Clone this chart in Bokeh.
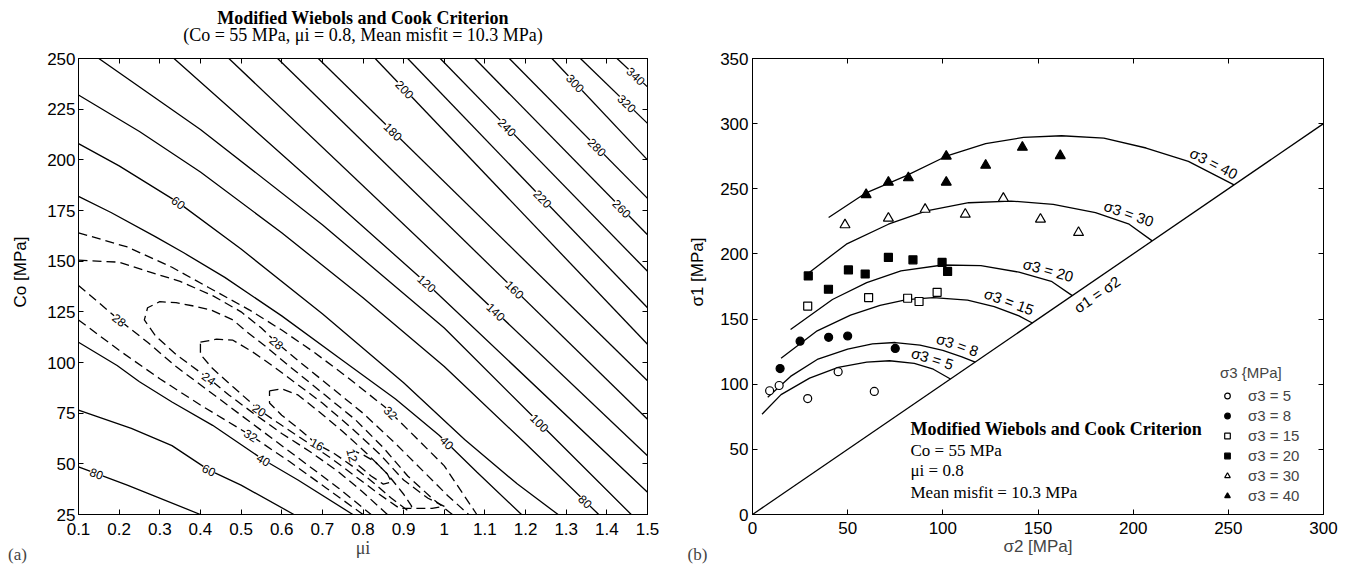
import math
from bokeh.plotting import figure
from bokeh.layouts import row
from bokeh.models import (Range1d, FixedTicker, LinearAxis, CustomJSTickFormatter, Title,
                          Label, Legend, LegendItem, ColumnDataSource)
from bokeh.core.properties import value
from bokeh.embed import file_html
from bokeh.resources import INLINE

SANS = "Liberation Sans"
SERIF = "Liberation Serif"

# ======================= Panel (a) data =======================
mu_ticks = [0.1, 0.2, 0.3, 0.4, 0.5, 0.6, 0.7, 0.8, 0.9, 1.0, 1.1, 1.2, 1.3, 1.4, 1.5]
co_ticks = [25, 50, 75, 100, 125, 150, 175, 200, 225, 250]

# contour pieces: level, mu points, Co points
contour_level = [80, 60, 40, 40, 60, 80, 100, 120, 140, 160, 180, 200, 220, 240, 260, 280,
                 300, 320, 340,
                 32, 28, 28, 32, 24, 20, 16, 12]
contour_mu = [
    [0.10, 0.22, 0.40],
    [0.10, 0.23, 0.33, 0.42, 0.50, 0.63],
    [0.10, 0.195, 0.25, 0.33, 0.43, 0.555, 0.64, 0.775],
    [0.10, 0.18, 0.29, 0.36, 0.46, 0.60, 0.75, 0.88, 0.988, 1.08, 1.19],
    [0.10, 0.20, 0.345, 0.50, 0.70, 0.90, 1.05, 1.18, 1.28],
    [0.10, 0.25, 0.40, 0.60, 0.80, 1.00, 1.20, 1.38],
    [0.15, 0.40, 0.70, 1.00, 1.225, 1.46],
    [0.335, 0.957, 1.5],
    [0.47, 1.5],
    [0.59, 1.5],
    [0.69, 1.5],
    [0.83, 1.5],
    [0.91, 1.5],
    [0.99, 1.5],
    [1.075, 1.5],
    [1.16, 1.5],
    [1.265, 1.5],
    [1.335, 1.5],
    [1.425, 1.5],
    # dashed
    [0.10, 0.22, 0.33, 0.42, 0.52, 0.60, 0.68, 0.76, 0.854, 0.93, 1.00, 1.08],
    [0.10, 0.20, 0.27, 0.35, 0.43, 0.50, 0.55, 0.586, 0.64, 0.72, 0.80, 0.88, 0.95, 1.01, 1.06],
    [0.10, 0.20, 0.27, 0.34, 0.42, 0.50, 0.58, 0.66, 0.74, 0.82],
    [0.10, 0.20, 0.30, 0.40, 0.524, 0.62, 0.71, 0.80],
    [1.02, 0.97, 0.91, 0.85, 0.78, 0.70, 0.62, 0.56, 0.515, 0.48, 0.425, 0.38, 0.34, 0.30,
     0.27, 0.262, 0.29, 0.34, 0.38, 0.421, 0.47, 0.53, 0.60, 0.67, 0.74, 0.80, 0.86],
    [0.40, 0.44, 0.48, 0.53, 0.58, 0.64, 0.70, 0.77, 0.84, 0.90, 0.96, 1.00, 0.97, 0.92,
     0.89, 0.84, 0.78, 0.72, 0.66, 0.60, 0.545, 0.48, 0.43, 0.40, 0.40],
    [0.57, 0.60, 0.64, 0.69, 0.75, 0.81, 0.86, 0.90, 0.92, 0.91, 0.87, 0.83, 0.78, 0.73,
     0.684, 0.65, 0.60, 0.57, 0.57],
    [0.77, 0.80, 0.83, 0.86, 0.87, 0.85, 0.82, 0.79, 0.775, 0.77],
]
contour_co = [
    [48.5, 39.5, 25],
    [76.5, 67.5, 59, 47, 39.5, 25],
    [110, 98.5, 90.5, 80.5, 69, 52, 42, 25],
    [182, 174, 162, 154, 142, 123, 101, 82, 64, 46, 25],
    [208, 197, 179, 156, 124, 90, 62, 40, 25],
    [232, 214, 194, 164, 132, 98, 60, 25],
    [250, 215, 168, 117, 72, 25],
    [250, 139, 36],
    [250, 54],
    [250, 72],
    [250, 91],
    [250, 109],
    [250, 127],
    [250, 145],
    [250, 163],
    [250, 181],
    [250, 200],
    [250, 218],
    [250, 236],
    # dashed
    [164, 157, 147, 137, 126, 116, 105, 93, 78, 63, 49, 25],
    [150.5, 149.5, 145, 140, 133, 125, 117, 110, 101, 88, 75, 60, 46, 34, 25],
    [138, 121, 110, 98, 86, 74, 62, 50, 38, 25],
    [121, 106, 92, 79, 64, 51, 38, 25],
    [25, 33, 44, 58, 72, 85, 98, 108, 115, 121, 126, 128, 129.5, 130, 127, 121, 113, 104, 98,
     92, 84, 75, 65, 56, 46, 36, 25],
    [110, 111.5, 111, 105, 98, 89, 80, 68, 55, 42, 33, 29, 28, 28, 28, 35, 44, 53, 61, 69,
     76.5, 88, 97, 104, 110],
    [86, 87, 84, 76, 66, 55, 45, 35, 29, 27, 33, 40, 48, 55, 60, 66, 74, 80, 86],
    [57, 54.5, 51, 45, 41, 40, 44, 49, 53, 57],
]

# inline contour labels (level, approximate position)
label_level = [80, 60, 40, 40, 60, 100, 80, 120, 140, 160, 180, 200, 220, 240, 260, 280, 300,
               320, 340, 28, 28, 24, 20, 32, 32, 16, 12]
label_mu = [0.143, 0.421, 0.555, 0.988, 0.345, 1.225, 1.338, 0.957, 1.127, 1.168, 0.883, 0.903,
            1.24, 1.162, 1.426, 1.379, 1.333, 1.451, 1.472, 0.2, 0.586, 0.421, 0.545, 0.524,
            0.854, 0.684, 0.777]
label_co = [44.4, 46.9, 51.8, 56.7, 178.7, 68.3, 29.6, 139.0, 125.0, 134.9, 215.8, 234.8, 180.4,
            217.5, 173.8, 206.8, 239.8, 228.2, 241.4, 120.9, 109.4, 92.1, 76.5, 64.1, 72.4,
            58.4, 54.3]

# ======================= Panel (b) data =======================
s2_ticks = [0, 50, 100, 150, 200, 250, 300]
s1_ticks = [0, 50, 100, 150, 200, 250, 300, 350]
sigma3_levels = [5, 8, 15, 20, 30, 40]

obs_s2_5 = [9, 14, 29, 45, 64]
obs_s1_5 = [95, 99, 89, 109.6, 94.5]
obs_s2_8 = [14.5, 25, 40, 50, 75]
obs_s1_8 = [112, 133, 136, 137, 127.5]
obs_s2_15 = [29, 61, 81.5, 87.5, 97]
obs_s1_15 = [160, 166.5, 166, 163.5, 170.5]
obs_s2_20 = [29.3, 39.9, 50.4, 59.2, 71.4, 84.3, 99.6, 102.5]
obs_s1_20 = [183.1, 172.9, 187.7, 184.6, 197.3, 195.5, 193.5, 186.6]
obs_s2_30 = [48.6, 71.4, 90.7, 111.8, 131.8, 151.3, 171.3]
obs_s1_30 = [222.3, 227.4, 234.2, 230.4, 242.6, 226.6, 216.4]
obs_s2_40 = [59.7, 71.4, 81.9, 101.8, 101.8, 122.5, 141.8, 161.7]
obs_s1_40 = [245.5, 255, 258.4, 275, 255, 268, 281.8, 275.4]

curve_s2_5 = [5, 15, 30, 45, 60, 72, 85, 95, 104]
curve_s1_5 = [77, 92, 104.7, 113, 117, 118, 116, 111.5, 104]
curve_s2_8 = [8, 20, 34, 50, 63, 75, 88, 100, 110, 117]
curve_s1_8 = [90, 106, 119, 127, 131, 132, 130, 126, 121, 117]
curve_s2_15 = [15, 34, 51.5, 67, 81, 95, 113, 127, 140, 147]
curve_s1_15 = [120, 141, 153, 160.5, 165, 166.5, 164.5, 159.5, 152.5, 147]
curve_s2_20 = [20, 42, 60, 78, 100, 120, 140, 157, 168]
curve_s1_20 = [142, 165, 178, 187, 191.5, 191, 186, 179, 168]
curve_s2_30 = [30, 49.3, 71.4, 91.4, 113.6, 135.8, 158, 180.2, 197.9, 210]
curve_s1_30 = [186, 207.5, 222.8, 233, 239.3, 240.6, 238, 231.7, 222.8, 210]
curve_s2_40 = [40, 59.7, 80.3, 101.8, 122.5, 142.4, 162.4, 184.6, 206.8, 229, 253]
curve_s1_40 = [228, 246.9, 259.7, 275, 284.6, 289.4, 290.7, 288.9, 281.3, 271, 253]

diag_s2 = [0, 300]
diag_s1 = [0, 300]

# ======================= helpers =======================
H = 566
FW1, FH1 = 569, 457
FW2, FH2 = 571, 457
KX1, KY1 = FW1 / 1.4, FH1 / 225.0
KX2, KY2 = FW2 / 300.0, FH2 / 350.0
FMT = "return String(Number(tick.toFixed(2)))"


def style_axes(p, xticks, yticks, xstand, ystand):
    p.xaxis.ticker = FixedTicker(ticks=xticks)
    p.yaxis.ticker = FixedTicker(ticks=yticks)
    p.xaxis.formatter = CustomJSTickFormatter(code=FMT)
    p.yaxis.formatter = CustomJSTickFormatter(code=FMT)
    p.xaxis.major_label_standoff = xstand
    p.yaxis.major_label_standoff = ystand
    top = LinearAxis(ticker=FixedTicker(ticks=xticks),
                     formatter=CustomJSTickFormatter(code="return ''"))
    right = LinearAxis(ticker=FixedTicker(ticks=yticks),
                       formatter=CustomJSTickFormatter(code="return ''"))
    p.add_layout(top, "above")
    p.add_layout(right, "right")
    for ax in list(p.xaxis) + list(p.yaxis):
        ax.major_tick_in = 5
        ax.major_tick_out = 0
        ax.minor_tick_line_color = None
        ax.axis_line_color = "black"
        ax.axis_line_width = 1
        ax.major_tick_line_color = "black"
        ax.major_label_text_font = SANS
        ax.major_label_text_font_size = "17px"
        ax.major_label_text_color = "black"
    p.grid.visible = False
    p.outline_line_color = "black"
    p.background_fill_color = "white"
    p.border_fill_color = "white"


def strip(width, ylabel, yl_x, yl_y, panel_tag):
    # narrow figure holding the rotated y-axis title (inside its frame) and the panel tag
    # (as the axis label of an invisible bottom axis, aligned with the neighbour's axis label)
    s = figure(width=width, height=H, x_range=Range1d(0, 1), y_range=Range1d(0, 1),
               y_axis_type=None, output_backend="svg", toolbar_location=None, min_border=0)
    s.outline_line_color = None
    s.grid.visible = False
    s.background_fill_color = "white"
    s.border_fill_color = "white"
    ax = s.below[0]
    ax.ticker = FixedTicker(ticks=[0.5])
    ax.formatter = CustomJSTickFormatter(code="return '\\u00a0'")
    ax.major_label_text_font = SANS
    ax.major_label_text_font_size = "17px"
    ax.major_label_standoff = 8
    ax.major_tick_in = 0
    ax.major_tick_out = 0
    ax.minor_tick_in = 0
    ax.minor_tick_out = 0
    ax.axis_line_color = None
    ax.major_tick_line_color = None
    ax.minor_tick_line_color = None
    ax.axis_label = panel_tag
    ax.axis_label_text_font = SERIF
    ax.axis_label_text_font_size = "17px"
    ax.axis_label_text_font_style = "normal"
    ax.axis_label_standoff = 0
    s.text(x=[yl_x], y=[yl_y], text=[ylabel], angle=[math.pi / 2], text_font=value(SANS),
           text_font_size="17px", text_align="center", text_baseline="middle",
           text_color="black")
    return s


# ======================= Panel (a) =======================
strip_a = strip(34, "Co [MPa]", 20 / 34, (515 - 272) / 457, "(a)")

p1 = figure(width=646, height=H, x_range=Range1d(0.1, 1.5), y_range=Range1d(25, 250),
            output_backend="svg", toolbar_location=None,
            min_border_left=44, min_border_right=33, min_border_top=58, min_border_bottom=51)
style_axes(p1, mu_ticks, co_ticks, 8, 3)
ax1 = p1.below[0]
ax1.axis_label = "\u03bci"
ax1.axis_label_text_font = SERIF
ax1.axis_label_text_font_size = "18px"
ax1.axis_label_text_font_style = "normal"
ax1.axis_label_standoff = 0
# spacer, then the two title lines (stacked outward from the frame)
p1.add_layout(Title(text="\u00a0", align="center", text_font=SANS, text_font_size="10px",
                    standoff=0, text_color="white"), "above")
p1.add_layout(Title(text="(Co = 55 MPa, \u03bci = 0.8, Mean misfit = 10.3 MPa)", align="center",
                    text_font=SERIF, text_font_size="18px", text_font_style="normal",
                    text_color="black", standoff=2), "above")
p1.add_layout(Title(text="Modified Wiebols and Cook Criterion", align="center",
                    text_font=SERIF, text_font_size="18px", text_font_style="bold",
                    text_color="black", standoff=-13), "above")

solid_x, solid_y, dash_x, dash_y = [], [], [], []
for lv, xs, ys in zip(contour_level, contour_mu, contour_co):
    if lv >= 40:
        solid_x.append(xs)
        solid_y.append(ys)
    else:
        dash_x.append(xs)
        dash_y.append(ys)
p1.multi_line(xs=solid_x, ys=solid_y, line_color="black", line_width=1.3)
p1.multi_line(xs=dash_x, ys=dash_y, line_color="black", line_width=1.3, line_dash="9 5")

lab_x, lab_y, lab_a, lab_t = [], [], [], []
for lv, m, c in zip(label_level, label_mu, label_co):
    best = None
    for plv, pm, pc in zip(contour_level, contour_mu, contour_co):
        if plv != lv:
            continue
        for i in range(len(pm) - 1):
            x0, y0 = pm[i] * KX1, pc[i] * KY1
            x1, y1 = pm[i + 1] * KX1, pc[i + 1] * KY1
            px, py = m * KX1, c * KY1
            dx, dy = x1 - x0, y1 - y0
            L2 = dx * dx + dy * dy
            t = 0.0 if L2 == 0 else max(0.0, min(1.0, ((px - x0) * dx + (py - y0) * dy) / L2))
            qx, qy = x0 + t * dx, y0 + t * dy
            d = (qx - px) ** 2 + (qy - py) ** 2
            if best is None or d < best[0]:
                a = math.atan2(dy, dx)
                if a > math.pi / 2:
                    a -= math.pi
                if a < -math.pi / 2:
                    a += math.pi
                best = (d, qx / KX1, qy / KY1, a)
    lab_x.append(best[1])
    lab_y.append(best[2])
    lab_a.append(best[3])
    lab_t.append(str(lv))

p1.text(x="x", y="y", text="t", angle="a",
        source=ColumnDataSource(dict(x=lab_x, y=lab_y, t=lab_t, a=lab_a)),
        text_font=value(SANS), text_font_size="12px", text_color="black",
        text_align="center", text_baseline="middle", background_fill_color="white")

# ======================= Panel (b) =======================
strip_b = strip(34, "\u03c31 [MPa]", 17 / 34, (515 - 272) / 457, "(b)")

p2 = figure(width=632, height=H, x_range=Range1d(0, 300), y_range=Range1d(0, 350),
            output_backend="svg", toolbar_location=None,
            min_border_left=38, min_border_right=23, min_border_top=58, min_border_bottom=51)
style_axes(p2, s2_ticks, s1_ticks, 7, 4)
ax2 = p2.below[0]
ax2.axis_label = "\u03c32 [MPa]"
ax2.axis_label_text_font = SANS
ax2.axis_label_text_font_size = "17px"
ax2.axis_label_text_font_style = "normal"
ax2.axis_label_standoff = 0

p2.line(diag_s2, diag_s1, line_color="black", line_width=1.3)
curves = [(curve_s2_5, curve_s1_5), (curve_s2_8, curve_s1_8), (curve_s2_15, curve_s1_15),
          (curve_s2_20, curve_s1_20), (curve_s2_30, curve_s1_30), (curve_s2_40, curve_s1_40)]
p2.multi_line(xs=[c[0] for c in curves], ys=[c[1] for c in curves],
              line_color="black", line_width=1.3)

obs = [(obs_s2_5, obs_s1_5, "circle", "white", 8),
       (obs_s2_8, obs_s1_8, "circle", "black", 8),
       (obs_s2_15, obs_s1_15, "square", "white", 8),
       (obs_s2_20, obs_s1_20, "square", "black", 8),
       (obs_s2_30, obs_s1_30, "triangle", "white", 10),
       (obs_s2_40, obs_s1_40, "triangle", "black", 10)]
items = []
for lvl, (xs, ys, mk, fc, sz) in zip(sigma3_levels, obs):
    r = p2.scatter(xs, ys, marker=mk, size=sz, fill_color=fc, line_color="black", line_width=1.2)
    items.append(LegendItem(label="\u03c33 = %d" % lvl, renderers=[r]))

leg = Legend(items=items, location=(468, 10), title="\u03c33 {MPa]",
             label_text_font=SANS, label_text_font_size="15px",
             title_text_font=SANS, title_text_font_size="15px", title_text_font_style="normal",
             border_line_color=None, background_fill_alpha=0.0, padding=0, margin=0,
             spacing=3, glyph_height=15, glyph_width=14, label_height=15,
             label_standoff=14, title_standoff=6)
p2.add_layout(leg)

# curve labels: anchored on each curve, lifted along the upward normal
anchor_s2 = [93, 106, 133, 154, 196, 240]
lift_px = 10
cl_x, cl_y, cl_a, cl_t = [], [], [], []
for lvl, (cx, cy), a2 in zip(sigma3_levels, curves, anchor_s2):
    for i in range(len(cx) - 1):
        if cx[i] <= a2 <= cx[i + 1]:
            t = (a2 - cx[i]) / (cx[i + 1] - cx[i])
            ay = cy[i] + t * (cy[i + 1] - cy[i])
            dx = (cx[i + 1] - cx[i]) * KX2
            dy = (cy[i + 1] - cy[i]) * KY2
            break
    ang = math.atan2(dy, dx)
    nx, ny = -math.sin(ang), math.cos(ang)
    cl_x.append(a2 + nx * lift_px / KX2)
    cl_y.append(ay + ny * lift_px / KY2)
    cl_a.append(ang)
    cl_t.append("\u03c33 = %d" % lvl)
p2.text(x=cl_x, y=cl_y, text=cl_t, angle=cl_a, text_font=value(SANS),
        text_font_size="15px", text_color="black", text_align="center",
        text_baseline="middle")
diag_ang = math.atan(KY2 / KX2)
p2.text(x=[181], y=[169], text=["\u03c31 = \u03c32"], angle=[diag_ang], text_font=value(SANS),
        text_font_size="15px", text_color="black", text_align="center",
        text_baseline="middle")

# text block
for yy, txt, st, sz in [(66, "Modified Wiebols and Cook Criterion", "bold", "18px"),
                        (49.2, "Co = 55 MPa", "normal", "17px"),
                        (33.4, "\u03bci = 0.8", "normal", "17px"),
                        (16.9, "Mean misfit = 10.3 MPa", "normal", "17px")]:
    p2.add_layout(Label(x=83, y=yy, text=txt, text_font=SERIF, text_font_size=sz,
                        text_font_style=st, text_align="left", text_baseline="middle",
                        text_color="black"))

layout = row(strip_a, p1, strip_b, p2)
open("out.html", "w").write(file_html(layout, INLINE))
